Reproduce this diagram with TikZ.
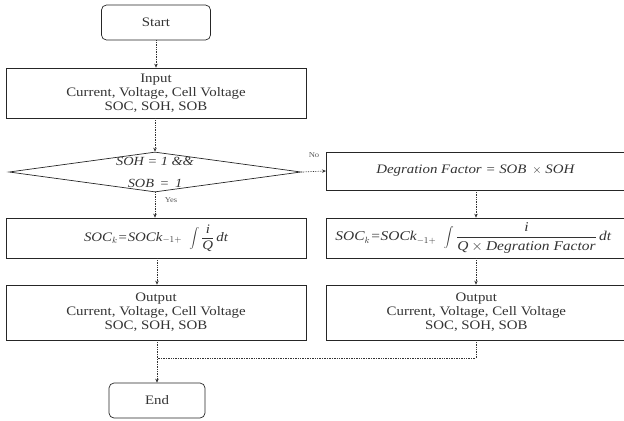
\documentclass[tikz,border=0pt]{standalone}
\usepackage{fontspec}
\setmainfont[FakeStretch=1.15]{Liberation Serif}
\usetikzlibrary{shapes.geometric,arrows.meta}
\begin{document}
\begin{tikzpicture}[x=1bp,y=-1bp,
  box/.style={draw=black!85,line width=0.7pt,inner sep=0pt,text=black!80,align=center,font=\fontsize{13}{14.2}\selectfont},
  term/.style={box,rounded corners=5bp},
  fbox/.style={box,font=\fontsize{13}{14}\selectfont},
  conn/.style={draw=black!80,densely dotted,line width=0.7pt,-{Stealth[length=4bp,width=3.5bp]}},
  plain/.style={draw=black!80,densely dotted,line width=0.7pt},
  lab/.style={font=\fontsize{7.5}{8}\selectfont,text=black!65,inner sep=0pt}]
\useasboundingbox (0,0) rectangle (624,420);
\node[term,minimum width=109bp,minimum height=35bp] (start) at (156,22.5) {Start};
\node[box,minimum width=300bp,minimum height=50bp] (input) at (156,93) {Input\\Current, Voltage, Cell Voltage\\SOC, SOH, SOB};
\node[box,shape=diamond,minimum width=292bp,minimum height=40bp] (dec) at (155,172) {};
\node[text=black!80,align=center,inner sep=0pt,font=\fontsize{12.5}{22}\selectfont\itshape] (dectext) at (dec.center) {SOH = 1 \&\&\\SOB \,= \,1};
\node[box,font=\fontsize{13}{14}\selectfont,minimum width=300bp,minimum height=38bp,anchor=west] (deg) at (326,171) {\itshape Degration Factor = SOB \,$\times$ SOH\hspace*{2bp}};
\node[fbox,minimum width=300bp,minimum height=40bp] (socl) at (156,238) {\itshape SOC$_k$=SOCk$_{-1+}$\; $\displaystyle\int\frac{\textit{i}}{\textit{Q}}\,\textit{dt}$};
\node[fbox,font=\fontsize{13.5}{14}\selectfont,minimum width=300bp,minimum height=40bp,anchor=west] (socr) at (326,238) {\itshape SOC$_k$=SOCk$_{-1+}$\; $\displaystyle\int\frac{\textit{i}}{\textit{Q} \times \textit{Degration Factor}}\,\textit{dt}$\hspace*{6bp}};
\node[box,minimum width=300bp,minimum height=55bp] (outl) at (156,312.5) {Output\\Current, Voltage, Cell Voltage\\SOC, SOH, SOB};
\node[box,minimum width=300bp,minimum height=55bp,anchor=west] (outr) at (326,312.5) {Output\\Current, Voltage, Cell Voltage\\SOC, SOH, SOB};
\node[term,minimum width=96bp,minimum height=35bp] (end) at (157,400.5) {End};
\coordinate (join) at (157,358);
\draw[conn] (start) -- (input);
\draw[conn] (input.south -| dec.north) -- (dec.north);
\draw[conn] (dec.east) -- (deg.west);
\node[lab] (no) at (314,155) {No};
\draw[conn] (dec.south) -- (dec.south |- socl.north);
\node[lab] (yes) at (171,200) {Yes};
\draw[conn] (deg.south -| 476,0) -- (socr.north -| 476,0);
\draw[conn] (socr.south -| 476,0) -- (outr.north -| 476,0);
\draw[conn] (socl.south -| join) -- (outl.north -| join);
\draw[conn] (outl.south -| join) -- (end.north);
\draw[plain] (outr.south -| 476,0) |- (join);
\end{tikzpicture}
\end{document}
